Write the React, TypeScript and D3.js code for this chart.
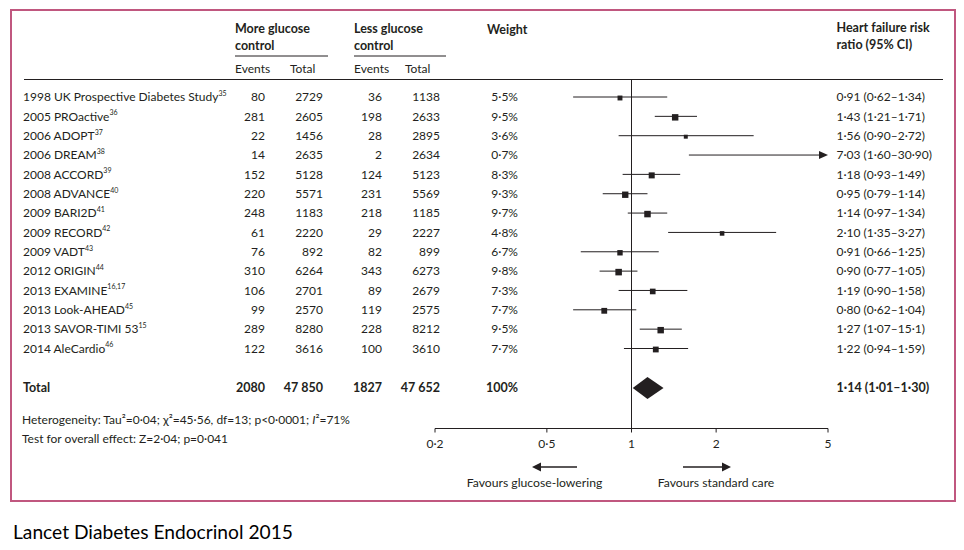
import React from "react";
import * as d3 from "d3";

const studies = [
  "1998 UK Prospective Diabetes Study", "2005 PROactive", "2006 ADOPT", "2006 DREAM",
  "2008 ACCORD", "2008 ADVANCE", "2009 BARI2D", "2009 RECORD", "2009 VADT",
  "2012 ORIGIN", "2013 EXAMINE", "2013 Look-AHEAD", "2013 SAVOR-TIMI 53", "2014 AleCardio",
];
const refs = ["35", "36", "37", "38", "39", "40", "41", "42", "43", "44", "16,17", "45", "15", "46"];
const moreEvents = [80, 281, 22, 14, 152, 220, 248, 61, 76, 310, 106, 99, 289, 122];
const moreTotal = [2729, 2605, 1456, 2635, 5128, 5571, 1183, 2220, 892, 6264, 2701, 2570, 8280, 3616];
const lessEvents = [36, 198, 28, 2, 124, 231, 218, 29, 82, 343, 89, 119, 228, 100];
const lessTotal = [1138, 2633, 2895, 2634, 5123, 5569, 1185, 2227, 899, 6273, 2679, 2575, 8212, 3610];
const weights = [5.5, 9.5, 3.6, 0.7, 8.3, 9.3, 9.7, 4.8, 6.7, 9.8, 7.3, 7.7, 9.5, 7.7];
const rr = [0.91, 1.43, 1.56, 7.03, 1.18, 0.95, 1.14, 2.10, 0.91, 0.90, 1.19, 0.80, 1.27, 1.22];
const lo = [0.62, 1.21, 0.90, 1.60, 0.93, 0.79, 0.97, 1.35, 0.66, 0.77, 0.90, 0.62, 1.07, 0.94];
const hi = [1.34, 1.71, 2.72, 30.90, 1.49, 1.14, 1.34, 3.27, 1.25, 1.05, 1.58, 1.04, 1.51, 1.59];
const ciLabels = [
  "0·91 (0·62–1·34)", "1·43 (1·21–1·71)", "1·56 (0·90–2·72)", "7·03 (1·60–30·90)",
  "1·18 (0·93–1·49)", "0·95 (0·79–1·14)", "1·14 (0·97–1·34)", "2·10 (1·35–3·27)",
  "0·91 (0·66–1·25)", "0·90 (0·77–1·05)", "1·19 (0·90–1·58)", "0·80 (0·62–1·04)",
  "1·27 (1·07–15·1)", "1·22 (0·94–1·59)",
];
const totalRow = { label: "Total", moreEvents: "2080", moreTotal: "47 850", lessEvents: "1827", lessTotal: "47 652", weight: "100%", ci: "1·14 (1·01–1·30)" };
const pooled = { rr: 1.14, lo: 1.01, hi: 1.30 };
const tickValues = [0.2, 0.5, 1, 2, 5];
const tickLabels = ["0·2", "0·5", "1", "2", "5"];

const FONT = "Lato, 'Open Sans', sans-serif";
const INK = "#231f20";
const BORDER = "#c0577f";

export default function App() {
  const x = d3.scaleLog().domain([0.2, 5]).range([435, 828]);
  const rowY = d3.scaleLinear().domain([0, 13]).range([97, 348.5]);
  const sq = d3.scaleSqrt().domain([0, 10]).range([0, 6.6]);
  const totalY = 388;
  const axisY = 428.5;
  const fs = 12;
  const hfs = 12.5;
  const dec = (v: number) => d3.format(".1f")(v).replace(".", "·") + "%";

  const diamond = `M${x(pooled.lo)},${totalY} L${x(pooled.rr)},${totalY - 11} L${x(pooled.hi)},${totalY} L${x(pooled.rr)},${totalY + 11} Z`;

  return (
    <svg width={964} height={550} style={{ position: "absolute", left: 0, top: 0, background: "#fff" }}
      fontFamily={FONT} fill={INK}>
      <rect x={11} y={10} width={944} height={491} fill="none" stroke={BORDER} strokeWidth={2} />
      {/* header */}
      <g fontWeight="bold" fontSize={hfs}>
        <text x={235} y={29} dy="0.35em">More glucose</text>
        <text x={235} y={46} dy="0.35em">control</text>
        <text x={354} y={29} dy="0.35em">Less glucose</text>
        <text x={354} y={46} dy="0.35em">control</text>
        <text x={487} y={30} dy="0.35em">Weight</text>
        <text x={836.5} y={28} dy="0.35em">Heart failure risk</text>
        <text x={836.5} y={45} dy="0.35em">ratio (95% CI)</text>
      </g>
      <line x1={235} x2={328} y1={56} y2={56} stroke={INK} strokeWidth={1} />
      <line x1={354} x2={446} y1={56} y2={56} stroke={INK} strokeWidth={1} />
      <g fontSize={fs}>
        <text x={235} y={69} dy="0.35em">Events</text>
        <text x={290} y={69} dy="0.35em">Total</text>
        <text x={354} y={69} dy="0.35em">Events</text>
        <text x={405} y={69} dy="0.35em">Total</text>
      </g>
      <line x1={24} x2={943} y1={79.5} y2={79.5} stroke={INK} strokeWidth={1} />
      {/* null line */}
      <line x1={x(1)} x2={x(1)} y1={79.5} y2={axisY} stroke={INK} strokeWidth={1} />
      {/* rows */}
      {studies.map((s, i) => {
        const y = rowY(i);
        const clipped = hi[i] > 5;
        const xHi = clipped ? x(5) : x(hi[i]);
        const side = sq(weights[i]);
        return (
          <g key={s} fontSize={fs}>
            <text x={23} y={y} dy="0.35em">{s}<tspan fontSize={7} dy="-0.75em">{refs[i]}</tspan></text>
            <text x={265} y={y} dy="0.35em" textAnchor="end">{moreEvents[i]}</text>
            <text x={323} y={y} dy="0.35em" textAnchor="end">{moreTotal[i]}</text>
            <text x={382} y={y} dy="0.35em" textAnchor="end">{lessEvents[i]}</text>
            <text x={440} y={y} dy="0.35em" textAnchor="end">{lessTotal[i]}</text>
            <text x={518} y={y} dy="0.35em" textAnchor="end">{dec(weights[i])}</text>
            <text x={836.5} y={y} dy="0.35em">{ciLabels[i]}</text>
            <line x1={x(lo[i])} x2={clipped ? xHi - 8 : xHi} y1={y} y2={y} stroke={INK} strokeWidth={1} />
            {clipped && <path d={`M${xHi},${y} L${xHi - 9},${y - 4} L${xHi - 9},${y + 4} Z`} fill={INK} />}
            {rr[i] <= 5 && (
              <rect x={x(rr[i]) - side / 2} y={y - side / 2 + 1} width={side} height={side} fill={INK} />
            )}
          </g>
        );
      })}
      {/* total */}
      <g fontSize={hfs} fontWeight="bold">
        <text x={23} y={totalY} dy="0.35em">{totalRow.label}</text>
        <text x={265} y={totalY} dy="0.35em" textAnchor="end">{totalRow.moreEvents}</text>
        <text x={323} y={totalY} dy="0.35em" textAnchor="end">{totalRow.moreTotal}</text>
        <text x={382} y={totalY} dy="0.35em" textAnchor="end">{totalRow.lessEvents}</text>
        <text x={440} y={totalY} dy="0.35em" textAnchor="end">{totalRow.lessTotal}</text>
        <text x={518} y={totalY} dy="0.35em" textAnchor="end">{totalRow.weight}</text>
        <text x={836.5} y={totalY} dy="0.35em">{totalRow.ci}</text>
      </g>
      <path d={diamond} fill={INK} />
      {/* axis */}
      <line x1={x(0.2)} x2={x(5)} y1={axisY} y2={axisY} stroke={INK} strokeWidth={1} />
      {tickValues.map((t, i) => (
        <g key={t}>
          <line x1={x(t)} x2={x(t)} y1={axisY} y2={axisY + 4} stroke={INK} strokeWidth={1} />
          <text x={x(t)} y={444} dy="0.35em" textAnchor="middle" fontSize={12}>{tickLabels[i]}</text>
        </g>
      ))}
      {/* favours */}
      <line x1={577} x2={539} y1={467} y2={467} stroke={INK} strokeWidth={1.3} />
      <path d="M532,467 L541,462.5 L541,471.5 Z" fill={INK} />
      <line x1={683} x2={723} y1={467} y2={467} stroke={INK} strokeWidth={1.3} />
      <path d="M731,467 L722,462.5 L722,471.5 Z" fill={INK} />
      <text x={534.5} y={483} dy="0.35em" textAnchor="middle" fontSize={12.2}>Favours glucose-lowering</text>
      <text x={716} y={483} dy="0.35em" textAnchor="middle" fontSize={12.2}>Favours standard care</text>
      {/* footnotes */}
      <g fontSize={12}>
        <text x={22} y={420} dy="0.35em">Heterogeneity: Tau²=0·04; χ²=45·56, df=13; p&lt;0·0001; <tspan fontStyle="italic">I</tspan>²=71%</text>
        <text x={22} y={439} dy="0.35em">Test for overall effect: Z=2·04; p=0·041</text>
      </g>
      <text x={13} y={532} dy="0.35em" fontSize={19.2} fontFamily="Lato, 'Open Sans', sans-serif" fill="#000">Lancet Diabetes Endocrinol 2015</text>
    </svg>
  );
}
